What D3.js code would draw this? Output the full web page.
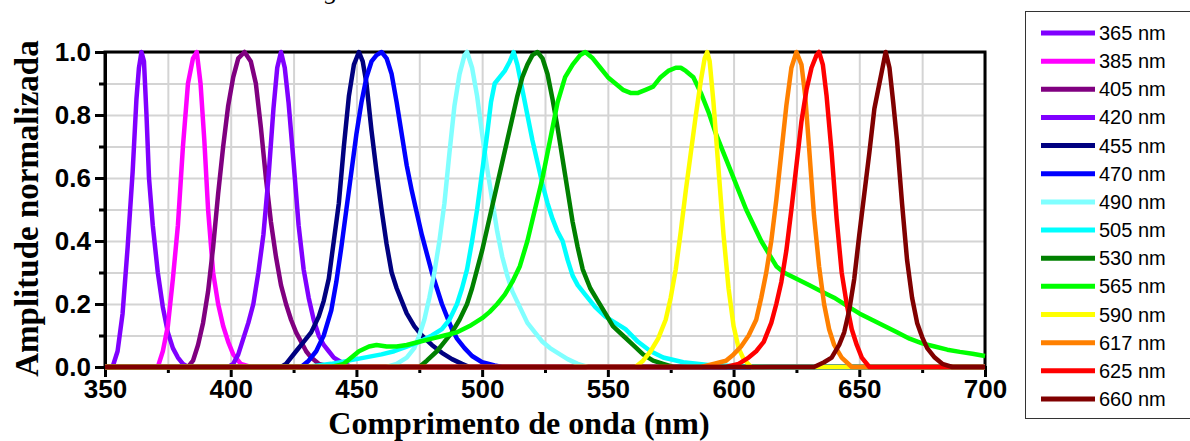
<!DOCTYPE html>
<html>
<head>
<meta charset="utf-8">
<script src="https://cdn.jsdelivr.net/npm/d3@7"></script>
<style>
  html, body { margin: 0; padding: 0; background: #fff; }
  svg { display: block; }
</style>
</head>
<body>
<div id="root"></div>
<script>
// LED spectra: [wavelength nm, normalised amplitude]
const s365 = [[350,0],[353,0],[355,0.05],[357,0.17],[359,0.38],[361,0.62],[362.5,0.85],[363.5,0.95],[364.5,1.0],[365.5,0.97],[366.5,0.8],[367.5,0.6],[369,0.45],[371,0.3],[373,0.19],[375,0.11],[377,0.06],[379,0.03],[381,0.01],[383,0],[700,0]];
const s385 = [[350,0],[371,0],[373,0.05],[375,0.13],[377,0.28],[379,0.45],[381,0.7],[383,0.9],[385,0.98],[386.5,1.0],[388,0.9],[389.5,0.72],[391,0.5],[393,0.3],[395,0.2],[397,0.13],[399,0.08],[401,0.04],[404,0.01],[408,0],[700,0]];
const s405 = [[350,0],[383,0],[385,0.02],[387,0.07],[389,0.14],[391,0.24],[393,0.38],[395,0.55],[397,0.7],[399,0.83],[401,0.92],[403,0.98],[405.5,1.0],[408,0.97],[410,0.9],[412,0.76],[414,0.6],[416,0.46],[418,0.35],[420,0.26],[422,0.2],[424,0.15],[426,0.11],[428,0.08],[430,0.05],[432,0.03],[435,0.01],[440,0],[700,0]];
const s420 = [[350,0],[399,0],[401,0.01],[403,0.04],[405,0.09],[407,0.14],[409,0.2],[411,0.3],[413,0.42],[415,0.6],[417,0.82],[418.5,0.95],[420,1.0],[421.5,0.95],[423,0.84],[425,0.65],[427,0.45],[429,0.31],[431,0.22],[433,0.15],[435,0.1],[437,0.07],[439,0.05],[441,0.03],[444,0.015],[448,0],[700,0]];
const s455 = [[350,0],[420,0],[422,0.01],[426,0.05],[429,0.08],[432,0.11],[435,0.16],[437,0.21],[439,0.28],[441,0.4],[443,0.52],[445,0.7],[447,0.86],[449,0.96],[451,1.0],[452.5,0.97],[454,0.9],[456,0.75],[458,0.62],[460,0.5],[462,0.39],[464,0.3],[466,0.25],[468,0.21],[470,0.17],[473,0.13],[476,0.1],[480,0.07],[484,0.045],[488,0.025],[492,0.01],[495,0],[700,0]];
const s470 = [[350,0],[428,0],[431,0.02],[434,0.05],[437,0.1],[440,0.18],[442,0.27],[444,0.38],[446,0.5],[448,0.62],[450,0.74],[452,0.84],[454,0.92],[456,0.97],[458,0.99],[460,1.0],[462,0.98],[464,0.93],[466,0.84],[468,0.74],[470,0.64],[472,0.56],[474,0.49],[476,0.42],[478,0.36],[480,0.3],[482,0.25],[484,0.2],[486,0.16],[488,0.12],[490,0.09],[493,0.06],[496,0.035],[500,0.015],[505,0.005],[508,0],[700,0]];
const s490 = [[350,0],[462,0],[466,0.01],[470,0.03],[473,0.06],[475,0.1],[477,0.15],[479,0.22],[481,0.3],[483,0.4],[485,0.52],[487,0.68],[489,0.83],[491,0.93],[493,0.99],[494,1.0],[496,0.95],[498,0.86],[500,0.74],[502,0.63],[504,0.53],[506,0.43],[508,0.35],[510,0.29],[512,0.24],[515,0.19],[518,0.14],[521,0.11],[524,0.08],[527,0.06],[530,0.045],[534,0.025],[538,0.01],[542,0],[700,0]];
const s505 = [[350,0],[430,0],[440,0.01],[450,0.025],[460,0.04],[465,0.05],[470,0.065],[475,0.08],[480,0.1],[484,0.12],[487,0.15],[490,0.2],[492,0.25],[494,0.31],[496,0.4],[498,0.5],[500,0.62],[502,0.74],[503.5,0.84],[505,0.9],[507,0.92],[509,0.94],[511,0.97],[512.5,1.0],[514,0.96],[516,0.88],[518,0.8],[520,0.72],[522,0.65],[524,0.58],[526,0.52],[528,0.47],[530,0.43],[532,0.4],[534,0.34],[536,0.29],[538,0.26],[541,0.23],[545,0.19],[549,0.16],[553,0.14],[557,0.12],[562,0.08],[567,0.05],[572,0.03],[580,0.015],[590,0.006],[600,0.003],[615,0],[700,0]];
const s530 = [[350,0],[475,0],[478,0.02],[482,0.05],[485,0.08],[488,0.11],[491,0.15],[494,0.2],[496,0.25],[498,0.31],[500,0.37],[502,0.44],[504,0.51],[506,0.58],[508,0.65],[510,0.72],[512,0.79],[514,0.86],[516,0.92],[518,0.96],[520,0.99],[522,1.0],[524,0.98],[526,0.93],[528,0.85],[530,0.76],[532,0.66],[534,0.56],[536,0.46],[538,0.38],[540,0.31],[543,0.25],[546,0.21],[549,0.17],[552,0.13],[556,0.1],[560,0.07],[564,0.04],[568,0.02],[572,0.01],[576,0],[700,0]];
const s565 = [[350,0],[440,0],[445,0.01],[448,0.03],[451,0.05],[455,0.065],[458,0.07],[462,0.065],[466,0.065],[470,0.07],[475,0.08],[480,0.09],[485,0.1],[490,0.11],[495,0.13],[500,0.155],[503,0.175],[506,0.2],[509,0.23],[512,0.27],[515,0.32],[518,0.4],[521,0.5],[524,0.6],[527,0.72],[530,0.84],[533,0.92],[536,0.96],[539,0.99],[541,1.0],[544,0.98],[547,0.95],[550,0.92],[553,0.9],[556,0.88],[559,0.87],[562,0.87],[565,0.88],[568,0.89],[571,0.92],[574,0.94],[577,0.95],[579,0.95],[581,0.94],[584,0.92],[587,0.87],[590,0.81],[593,0.74],[596,0.68],[599,0.62],[602,0.56],[605,0.5],[608,0.45],[611,0.4],[614,0.36],[617,0.32],[620,0.3],[625,0.28],[630,0.26],[635,0.24],[640,0.22],[645,0.195],[650,0.17],[655,0.15],[660,0.13],[665,0.11],[670,0.09],[675,0.075],[680,0.065],[685,0.055],[690,0.048],[695,0.042],[700,0.035]];
const s590 = [[350,0],[561,0],[564,0.02],[567,0.05],[570,0.09],[573,0.15],[575,0.22],[577,0.31],[579,0.43],[581,0.56],[583,0.68],[585,0.8],[587,0.91],[588.5,0.98],[589.5,1.0],[590.5,0.97],[592,0.84],[594,0.63],[596,0.42],[598,0.25],[600,0.13],[602,0.06],[604,0.025],[607,0],[700,0]];
const s617 = [[350,0],[587,0],[592,0.01],[597,0.02],[600,0.04],[603,0.065],[606,0.1],[609,0.15],[611,0.22],[613,0.3],[615,0.4],[617,0.53],[619,0.68],[621,0.83],[623,0.95],[625,1.0],[627,0.96],[628.5,0.86],[630,0.7],[632,0.48],[634,0.32],[636,0.2],[638,0.12],[640,0.07],[643,0.03],[647,0],[700,0]];
const s625 = [[350,0],[597,0],[602,0.01],[606,0.03],[609,0.05],[612,0.08],[615,0.14],[617,0.2],[619,0.27],[621,0.37],[623,0.5],[625,0.64],[627,0.78],[629,0.88],[631,0.95],[633,0.99],[634,1.0],[635.5,0.96],[637,0.86],[639,0.68],[641,0.47],[643,0.3],[645,0.2],[647,0.12],[649,0.07],[651,0.03],[654,0],[700,0]];
const s660 = [[350,0],[632,0],[636,0.015],[639,0.03],[642,0.07],[644,0.11],[646,0.18],[648,0.28],[650,0.42],[652,0.55],[654,0.68],[656,0.82],[657.5,0.88],[659,0.94],[660.5,1.0],[662,0.95],[663.5,0.84],[665,0.72],[667,0.52],[669,0.34],[671,0.22],[673,0.14],[675,0.095],[677,0.06],[680,0.03],[683,0.01],[687,0],[700,0]];

const labels = ["365 nm","385 nm","405 nm","420 nm","455 nm","470 nm","490 nm","505 nm","530 nm","565 nm","590 nm","617 nm","625 nm","660 nm"];
const colors = ["#8000ff","#ff00ff","#800080","#8000ff","#000080","#0000ff","#80ffff","#00ffff","#008000","#00ff00","#ffff00","#ff8000","#ff0000","#800000"];
const values = [s365,s385,s405,s420,s455,s470,s490,s505,s530,s565,s590,s617,s625,s660];

const xMajor = [350,400,450,500,550,600,650,700];
const xMinor = [375,425,475,525,575,625,675];
const yMajor = [0,0.2,0.4,0.6,0.8,1.0];
const yMinor = [0.1,0.3,0.5,0.7,0.9];

const series = labels.map((l, i) => ({ label: l, color: colors[i], points: values[i] }));

const W = 1190, H = 441;
const margin = { top: 52, left: 105 };
const width = 880, height = 315;
const sansFont = "'Liberation Sans', Arial, sans-serif";
const serifFont = "'Liberation Serif', 'Times New Roman', serif";

const svg = d3.select("#root").append("svg")
  .attr("width", W).attr("height", H);

// fragment of the caption above the picture (only its lowest part shows)
svg.append("text")
  .attr("x", 325).attr("y", -1)
  .style("font-family", serifFont).style("font-style", "italic").style("font-size", "26px")
  .text("g");

const g = svg.append("g").attr("transform", `translate(${margin.left},${margin.top})`);

const x = d3.scaleLinear().domain([350, 700]).range([0, width]);
const y = d3.scaleLinear().domain([0, 1]).range([height, 0]);

// grid
g.append("g").attr("class", "grid")
  .call(d3.axisBottom(x).tickValues(xMajor.concat(xMinor)).tickSize(height).tickFormat(""))
  .call(s => s.select(".domain").remove())
  .selectAll("line").attr("stroke", "#d4d4d4").attr("stroke-width", 2);
g.append("g").attr("class", "grid")
  .call(d3.axisLeft(y).tickValues(yMajor.concat(yMinor)).tickSize(-width).tickFormat(""))
  .call(s => s.select(".domain").remove())
  .selectAll("line").attr("stroke", "#d4d4d4").attr("stroke-width", 2);

// frame
g.append("rect")
  .attr("width", width).attr("height", height)
  .attr("fill", "none").attr("stroke", "#000").attr("stroke-width", 3);

// axes
g.append("g").attr("transform", `translate(0,${height})`)
  .call(d3.axisBottom(x).tickValues(xMajor).tickSize(10).tickPadding(3).tickFormat(d3.format("d")));
g.append("g").attr("transform", `translate(0,${height})`)
  .call(d3.axisBottom(x).tickValues(xMinor).tickSize(6).tickFormat(""));
g.append("g")
  .call(d3.axisLeft(y).tickValues(yMajor).tickSize(10).tickPadding(4).tickFormat(d3.format(".1f")));
g.append("g")
  .call(d3.axisLeft(y).tickValues(yMinor).tickSize(6).tickFormat(""));

g.selectAll(".domain").attr("stroke", "#000").attr("stroke-width", 3);
g.selectAll(".tick line").filter(function () { return !this.closest(".grid"); })
  .attr("stroke", "#000").attr("stroke-width", 3);
g.selectAll(".tick text")
  .style("font-family", sansFont).style("font-weight", "bold").style("font-size", "26px").attr("fill", "#000");

// spectra
const line = d3.line().x(d => x(d[0])).y(d => y(d[1]));
g.selectAll(".spec").data(series).join("path")
  .attr("class", "spec")
  .attr("d", d => line(d.points))
  .attr("fill", "none")
  .attr("stroke", d => d.color)
  .attr("stroke-width", 4.5)
  .attr("stroke-linejoin", "round");

// axis titles
svg.append("text")
  .attr("x", margin.left + width / 2 - 26).attr("y", 434)
  .attr("text-anchor", "middle")
  .style("font-family", serifFont).style("font-weight", "bold").style("font-size", "32px")
  .text("Comprimento de onda (nm)");
svg.append("text")
  .attr("transform", `translate(38,${margin.top + height / 2 - 1}) rotate(-90)`)
  .attr("text-anchor", "middle")
  .style("font-family", serifFont).style("font-weight", "bold").style("font-size", "33px")
  .text("Amplitude normalizada");

// legend
const legend = svg.append("g");
legend.append("rect")
  .attr("x", 1025.5).attr("y", 11.5).attr("width", 170).attr("height", 407)
  .attr("fill", "#fff").attr("stroke", "#333").attr("stroke-width", 1);
const items = legend.selectAll(".item").data(series).join("g")
  .attr("class", "item")
  .attr("transform", (d, i) => `translate(0,${33 + i * 28.15})`);
items.append("line")
  .attr("x1", 1041).attr("x2", 1095)
  .attr("stroke", d => d.color).attr("stroke-width", 5);
items.append("text")
  .attr("x", 1099).attr("dy", "0.35em")
  .style("font-family", sansFont).style("font-size", "20px")
  .text(d => d.label);
</script>
</body>
</html>
